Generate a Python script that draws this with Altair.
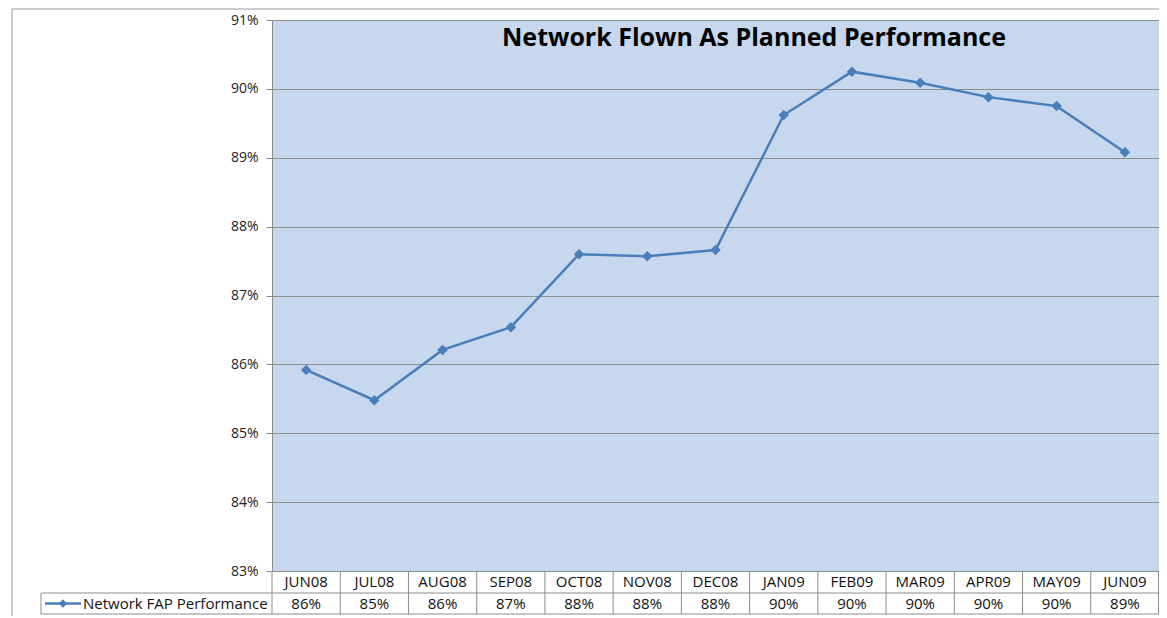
import altair as alt
import pandas as pd

# ---- data ----
months = ["JUN08", "JUL08", "AUG08", "SEP08", "OCT08", "NOV08", "DEC08",
          "JAN09", "FEB09", "MAR09", "APR09", "MAY09", "JUN09"]
values = [0.8592, 0.8548, 0.8621, 0.8654, 0.8760, 0.8757, 0.8766,
          0.8962, 0.9025, 0.9009, 0.8988, 0.8975, 0.8908]
y_ticks = [0.83, 0.84, 0.85, 0.86, 0.87, 0.88, 0.89, 0.90, 0.91]
title_text = "Network Flown As Planned Performance"
series_name = "Network FAP Performance"

df = pd.DataFrame({"month": months, "value": values})
one = pd.DataFrame({"k": [0]})

FONT = "Open Sans"
LINE = "#4a7ebb"
GRID = "#8c8c8c"
W, H = 887, 551
R1 = H + 22   # bottom of month row
R2 = R1 + 21  # bottom of value row

def xband(pos):
    return alt.X("month:N", sort=months,
                 scale=alt.Scale(type="band", paddingInner=0, paddingOuter=0),
                 axis=None, bandPosition=pos)

yenc = alt.Y("value:Q",
             scale=alt.Scale(domain=[0.83, 0.91], nice=False, zero=False),
             axis=alt.Axis(format=".0%", values=y_ticks, title=None, grid=True,
                           gridColor=GRID, domainColor=GRID, tickColor=GRID,
                           tickSize=6, labelPadding=8, labelFontSize=14,
                           labelFont=FONT, labelColor="#222222"))

line = alt.Chart(df).mark_line(color=LINE, strokeWidth=2.5).encode(x=xband(0.5), y=yenc)
pts = alt.Chart(df).mark_point(shape="diamond", filled=True, color=LINE, size=110,
                               opacity=1).encode(x=xband(0.5), y="value:Q")

# table rows
row1 = alt.Chart(df).mark_text(font=FONT, fontSize=15, color="#111111").encode(
    x=xband(0.5), y=alt.value((H + R1) / 2), text="month:N")
row2 = alt.Chart(df).mark_text(font=FONT, fontSize=15, color="#111111").encode(
    x=xband(0.5), y=alt.value((R1 + R2) / 2), text=alt.Text("value:Q", format=".0%"))

vlines = alt.Chart(df).mark_rule(color=GRID, strokeWidth=1).encode(
    x=xband(0), y=alt.value(H), y2=alt.value(R2))
rline = alt.Chart(one).mark_rule(color=GRID).encode(
    x=alt.value(W - 0.5), y=alt.value(H), y2=alt.value(R2))
h1 = alt.Chart(one).mark_rule(color=GRID).encode(
    x=alt.value(-231), x2=alt.value(W), y=alt.value(R1))
h2 = alt.Chart(one).mark_rule(color=GRID).encode(
    x=alt.value(-231), x2=alt.value(W), y=alt.value(R2))
lv = alt.Chart(one).mark_rule(color=GRID).encode(
    x=alt.value(-231), y=alt.value(R1), y2=alt.value(R2))

# legend inside table
ly = (R1 + R2) / 2
leg_line = alt.Chart(one).mark_rule(color=LINE, strokeWidth=2.5).encode(
    x=alt.value(-227), x2=alt.value(-191), y=alt.value(ly))
leg_pt = alt.Chart(one).mark_point(shape="diamond", filled=True, color=LINE,
                                   size=70, opacity=1).encode(
    x=alt.value(-209), y=alt.value(ly))
leg_txt = alt.Chart(one).mark_text(font=FONT, fontSize=15, align="left",
                                   color="#111111").encode(
    x=alt.value(-189), y=alt.value(ly), text=alt.value(series_name))

# title
title = alt.Chart(one).mark_text(font=FONT, fontSize=25, fontWeight="bold",
                                 color="#000000").encode(
    x=alt.value(482), y=alt.value(18), text=alt.value(title_text))

# outer frame
frame_top = alt.Chart(one).mark_rule(color="#cccccc", strokeWidth=2).encode(
    x=alt.value(-260), x2=alt.value(W), y=alt.value(-11))
frame_left = alt.Chart(one).mark_rule(color="#bbbbbb", strokeWidth=1.5).encode(
    x=alt.value(-260), y=alt.value(-11), y2=alt.value(610))

chart = alt.layer(
    line, pts, row1, row2, vlines, rline, h1, h2, lv,
    leg_line, leg_pt, leg_txt, title, frame_top, frame_left
).properties(
    width=W, height=H,
    autosize=alt.AutoSizeParams(type="none"),
    padding={"left": 264, "top": 12, "right": 0, "bottom": 45},
).configure_view(fill="#c6d7ee", stroke="transparent")

chart.save("out.html", embed_options={"renderer": "svg", "actions": False})
